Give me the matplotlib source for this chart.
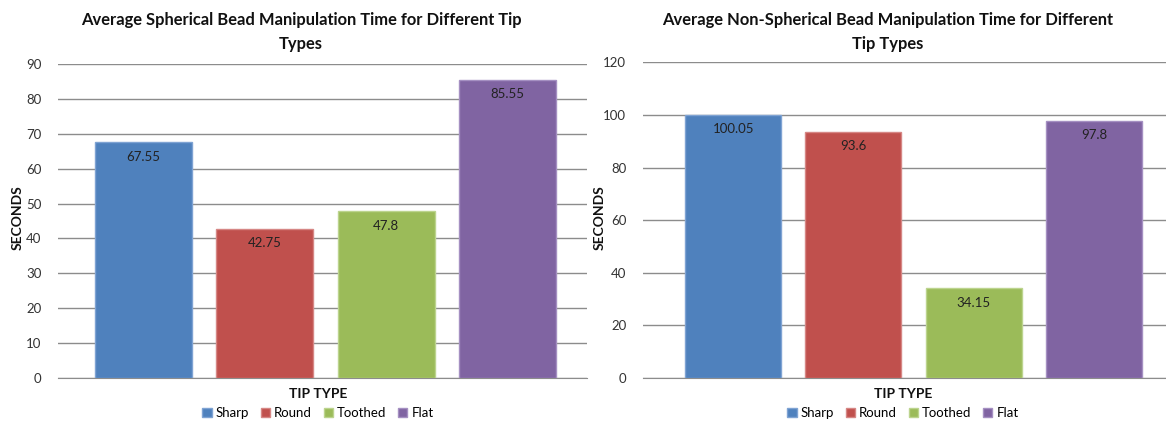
import matplotlib
matplotlib.use("Agg")
import matplotlib.pyplot as plt

plt.rcParams['font.family'] = ['Lato', 'DejaVu Sans']

tip_types = ['Sharp', 'Round', 'Toothed', 'Flat']
spherical = [67.55, 42.75, 47.8, 85.55]
non_spherical = [100.05, 93.6, 34.15, 97.8]
colors = ['#4F81BD', '#C0504D', '#9BBB59', '#8064A2']
edge_colors = ['#7FA3D3', '#D68785', '#BCD48E', '#A590C2']

W, H = 1166, 421
fig = plt.figure(figsize=(W / 100, H / 100), dpi=100)

def px_axes(x0, x1, y_top, y_bot):
    return fig.add_axes([x0 / W, 1 - y_bot / H, (x1 - x0) / W, (y_bot - y_top) / H])

def draw_panel(ax, values, ymax, ystep, xlim):
    for i, (name, v) in enumerate(zip(tip_types, values)):
        ax.bar(i, v, width=0.8, color=colors[i], edgecolor=edge_colors[i],
               linewidth=1, label=name, zorder=3)
        ax.annotate(str(v), (i, v), xytext=(0, -6), textcoords='offset points',
                    ha='center', va='top', fontsize=9.5, color='#222222', zorder=4)
    ax.set_ylim(0, ymax)
    ax.set_xlim(*xlim)
    ax.set_yticks(range(0, ymax + 1, ystep))
    ax.yaxis.grid(True, color='#8c8c8c', linewidth=1)
    ax.set_axisbelow(True)
    ax.set_xticks([])
    for s in ['top', 'right', 'left']:
        ax.spines[s].set_visible(False)
    ax.spines['bottom'].set_color('#8c8c8c')
    ax.tick_params(axis='y', length=0, pad=12, labelsize=9.5, labelcolor='#333333')

ax1 = px_axes(58, 587, 64, 378)
draw_panel(ax1, spherical, 90, 10, (-0.705, 3.656))
ax2 = px_axes(643, 1166, 62.4, 378)
draw_panel(ax2, non_spherical, 120, 20, (-0.75, 3.60))

title_kw = dict(ha='center', va='center', fontsize=11.9, fontweight='bold', color='#111111')
fig.text(301 / W, 1 - 20 / H, 'Average Spherical Bead Manipulation Time for Different Tip', **title_kw)
fig.text(301 / W, 1 - 44 / H, 'Types', **title_kw)
fig.text(888 / W, 1 - 20 / H, 'Average Non-Spherical Bead Manipulation Time for Different', **title_kw)
fig.text(888 / W, 1 - 44 / H, 'Tip Types', **title_kw)

lab_kw = dict(fontsize=10, fontweight='bold', color='#111111')
fig.text(18 / W, 1 - 218 / H, 'SECONDS', rotation=90, ha='center', va='center', **lab_kw)
fig.text(600 / W, 1 - 218 / H, 'SECONDS', rotation=90, ha='center', va='center', **lab_kw)
fig.text(318 / W, 1 - 394 / H, 'TIP TYPE', ha='center', va='center', **lab_kw)
fig.text(903 / W, 1 - 394 / H, 'TIP TYPE', ha='center', va='center', **lab_kw)

for ax, cx in [(ax1, 318), (ax2, 903)]:
    h, l = ax.get_legend_handles_labels()
    fig.legend(h, l, loc='center', bbox_to_anchor=(cx / W, 1 - 413 / H), ncol=4,
               frameon=False, fontsize=9.5, handlelength=0.7, handleheight=0.7,
               handletextpad=0.3, columnspacing=0.9, borderpad=0)

fig.savefig('out.png', dpi=100, facecolor='white')
